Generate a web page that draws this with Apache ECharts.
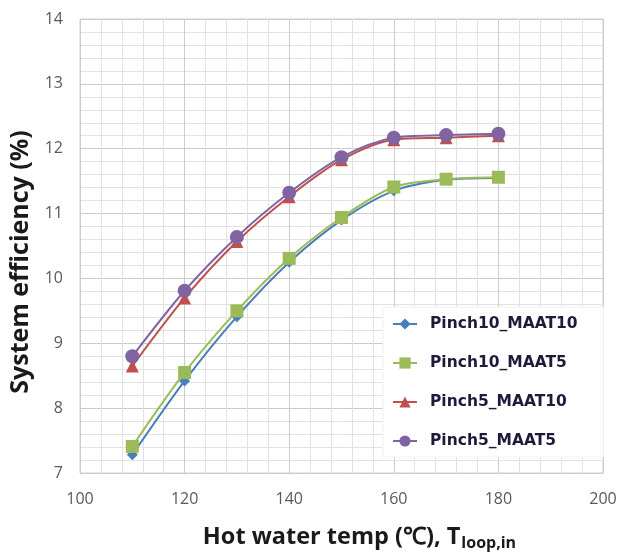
<!DOCTYPE html>
<html><head><meta charset="utf-8">
<script src="https://cdn.jsdelivr.net/npm/echarts@6/dist/echarts.min.js"></script>
<style>html,body{margin:0;padding:0;background:#fff}#c{width:630px;height:556px}</style>
</head><body><div id="c"></div>
<script>
const temps = [110, 120, 130, 140, 150, 160, 170, 180];
const pinch10_maat10 = [7.28, 8.42, 9.41, 10.25, 10.9, 11.35, 11.52, 11.55];
const pinch10_maat5  = [7.41, 8.55, 9.50, 10.31, 10.94, 11.41, 11.53, 11.56];
const pinch5_maat10  = [8.65, 9.70, 10.57, 11.26, 11.83, 12.14, 12.17, 12.20];
const pinch5_maat5   = [8.80, 9.81, 10.64, 11.32, 11.87, 12.17, 12.21, 12.23];
const names = ['Pinch10_MAAT10', 'Pinch10_MAAT5', 'Pinch5_MAAT10', 'Pinch5_MAAT5'];
const xTicks = [100, 120, 140, 160, 180, 200];
const yTicks = [7, 8, 9, 10, 11, 12, 13, 14];

const colors = ['#4A7EBB', '#9BBB59', '#C0504D', '#8064A2'];
const symbols = ['diamond', 'rect', 'triangle', 'circle'];
const sizes = [11, 13, 13, 14];
const dataSets = [pinch10_maat10, pinch10_maat5, pinch5_maat10, pinch5_maat5];

const chart = echarts.init(document.getElementById('c'));
chart.setOption({
  animation: false,
  textStyle: {fontFamily: 'Open Sans, Noto Sans, sans-serif'},
  grid: {left: 80, right: 27, top: 19, bottom: 83, show: true, borderColor: '#d0d0d0', borderWidth: 1},
  legend: {
    orient: 'vertical', left: 383, top: 307,
    itemWidth: 24, itemHeight: 14, itemGap: 23,
    padding: [9, 26, 8, 9],
    backgroundColor: '#ffffff', borderColor: '#f0f0f0', borderWidth: 1,
    textStyle: {fontSize: 15.5, color: '#1c1c3a', fontWeight: 'bold', fontFamily: 'DejaVu Sans', padding: [0, 0, 0, 8]},
    data: names
  },
  xAxis: {
    type: 'value', min: xTicks[0], max: xTicks[xTicks.length - 1], interval: 20,
    axisLine: {show: false}, axisTick: {show: false},
    axisLabel: {fontSize: 16, color: '#595959', margin: 18},
    splitLine: {show: true, lineStyle: {color: '#cccccc', width: 1}},
    minorTick: {show: false, splitNumber: 5},
    minorSplitLine: {show: true, lineStyle: {color: '#e2e2e2', width: 1}},
    name: '{a|Hot water temp (℃), T}{s|loop,in}',
    nameLocation: 'middle', nameGap: 50,
    nameTextStyle: {
      padding: [0, 0, 0, 36],
      rich: {
        a: {fontSize: 23.5, fontWeight: 'bold', color: '#1a1a1a', fontFamily: 'Open Sans'},
        s: {fontSize: 16, fontWeight: 'bold', color: '#1a1a1a', fontFamily: 'Open Sans', padding: [12, 0, 0, 1]}
      }
    }
  },
  yAxis: {
    type: 'value', min: yTicks[0], max: yTicks[yTicks.length - 1], interval: 1,
    axisLine: {show: false}, axisTick: {show: false},
    axisLabel: {fontSize: 16, color: '#595959', margin: 17},
    splitLine: {show: true, lineStyle: {color: '#cccccc', width: 1}},
    minorTick: {show: false, splitNumber: 5},
    minorSplitLine: {show: true, lineStyle: {color: '#e2e2e2', width: 1}},
    name: 'System efficiency (%)', nameLocation: 'middle', nameGap: 43,
    nameTextStyle: {fontSize: 25, fontWeight: 'bold', color: '#1a1a1a', fontFamily: 'Open Sans', padding: [0, 32, 0, 0]}
  },
  series: dataSets.map((d, i) => ({
    name: names[i], type: 'line', smooth: 0.3,
    data: temps.map((t, j) => [t, d[j]]),
    symbol: symbols[i], symbolSize: sizes[i], showAllSymbol: true,
    lineStyle: {color: colors[i], width: 2},
    itemStyle: {color: colors[i]},
    z: 2 + i
  }))
});
</script></body></html>
